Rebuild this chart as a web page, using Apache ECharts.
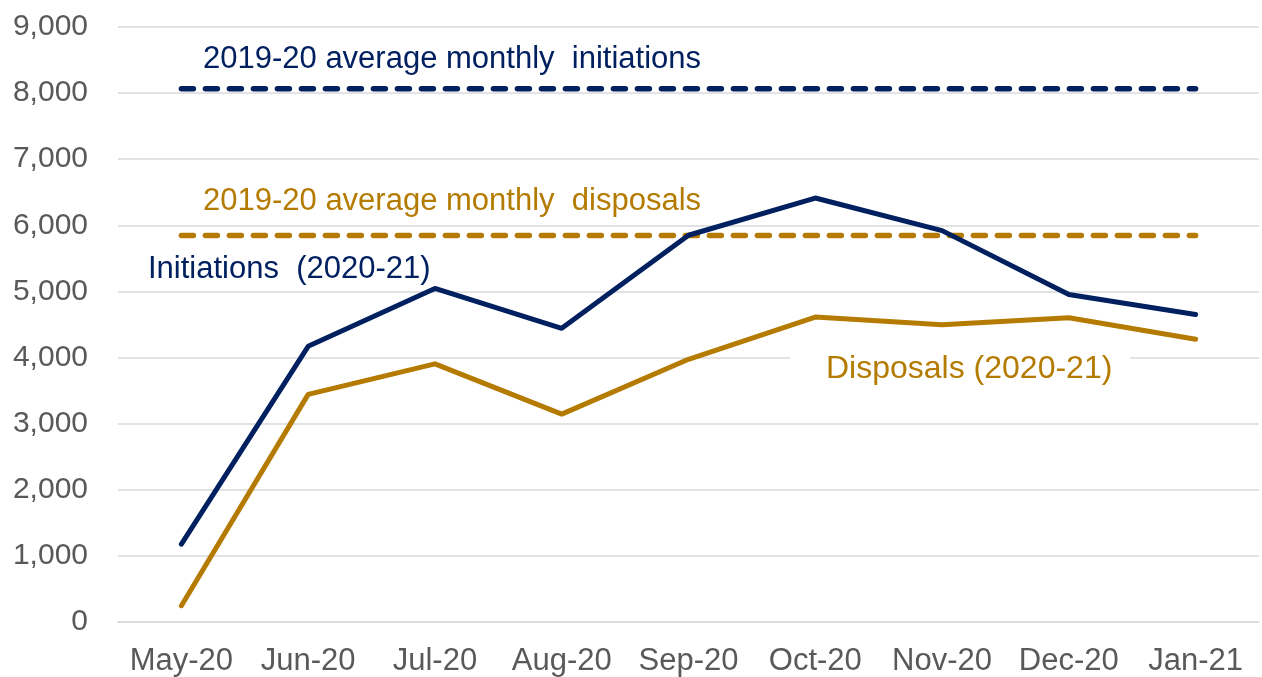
<!DOCTYPE html>
<html>
<head>
<meta charset="utf-8">
<script src="https://cdn.jsdelivr.net/npm/echarts@6/dist/echarts.min.js"></script>
<style>
html,body{margin:0;padding:0;background:#fff;}
#chart{width:1262px;height:677px;}
</style>
</head>
<body>
<div id="chart"></div>
<script>
var months = ["May-20","Jun-20","Jul-20","Aug-20","Sep-20","Oct-20","Nov-20","Dec-20","Jan-21"];
var initiations = [1178, 4170, 5045, 4442, 5850, 6413, 5920, 4955, 4650];
var disposals = [246, 3443, 3905, 3145, 3974, 4612, 4497, 4603, 4276];
var avgInitiations = [8066, 8066, 8066, 8066, 8066, 8066, 8066, 8066, 8066];
var avgDisposals = [5845, 5845, 5845, 5845, 5845, 5845, 5845, 5845, 5845];
var yTicks = [0, 1000, 2000, 3000, 4000, 5000, 6000, 7000, 8000, 9000];

var NAVY = "#002060";
var GOLD = "#B47B00";
var FONT = "Liberation Sans, Arial, sans-serif";

var chart = echarts.init(document.getElementById("chart"));

var option = {
	animation: false,
	backgroundColor: "#fff",
	textStyle: {fontFamily: FONT},
	grid: {left: 118, right: 3, top: 27, bottom: 54},
	xAxis: {
		type: "category",
		data: months,
		boundaryGap: true,
		axisLine: {show: true, lineStyle: {color: "#d9d9d9", width: 1.5}},
		axisTick: {show: false},
		axisLabel: {color: "#595959", fontSize: 31, fontFamily: FONT, margin: 24, interval: 0}
	},
	yAxis: {
		type: "value",
		min: yTicks[0],
		max: yTicks[yTicks.length - 1],
		interval: 1000,
		axisLine: {show: false},
		axisTick: {show: false},
		splitLine: {lineStyle: {color: "#d9d9d9", width: 1.5}},
		axisLabel: {
			color: "#595959", fontSize: 30, fontFamily: FONT, margin: 30,
			formatter: function(v){ return v.toLocaleString("en-US"); }
		}
	},
	series: [
		{
			name: "avgInit", type: "line", data: avgInitiations, symbol: "none", z: 3,
			lineStyle: {color: NAVY, width: 5.5, type: [12, 12], cap: "round"}
		},
		{
			name: "avgDisp", type: "line", data: avgDisposals, symbol: "none", z: 3,
			lineStyle: {color: GOLD, width: 5.5, type: [12, 12], cap: "round"}
		},
		{
			name: "Initiations", type: "line", data: initiations, symbol: "none", z: 4,
			lineStyle: {color: NAVY, width: 5, cap: "round", join: "round"}
		},
		{
			name: "Disposals", type: "line", data: disposals, symbol: "none", z: 4,
			lineStyle: {color: GOLD, width: 5, cap: "round", join: "round"}
		}
	],
	graphic: [
		{type: "rect", left: 182, top: 28, z: 1, silent: true,
			shape: {width: 551, height: 50}, style: {fill: "#fff"}},
		{type: "text", left: 203, top: 44, z: 10,
			style: {text: "2019-20 average monthly  initiations", fill: NAVY, font: "31px " + FONT}},
		{type: "text", left: 203, top: 186, z: 10,
			style: {text: "2019-20 average monthly  disposals", fill: GOLD, font: "31px " + FONT}},
		{type: "text", left: 148, top: 254, z: 10,
			style: {text: "Initiations  (2020-21)", fill: NAVY, font: "31px " + FONT}},
		{type: "text", left: 790, top: 349, z: 10,
			style: {text: "Disposals (2020-21)", fill: GOLD, font: "32px " + FONT,
				backgroundColor: "#fff", padding: [4, 18, 4, 36]}}
	]
};

chart.setOption(option);
</script>
</body>
</html>
